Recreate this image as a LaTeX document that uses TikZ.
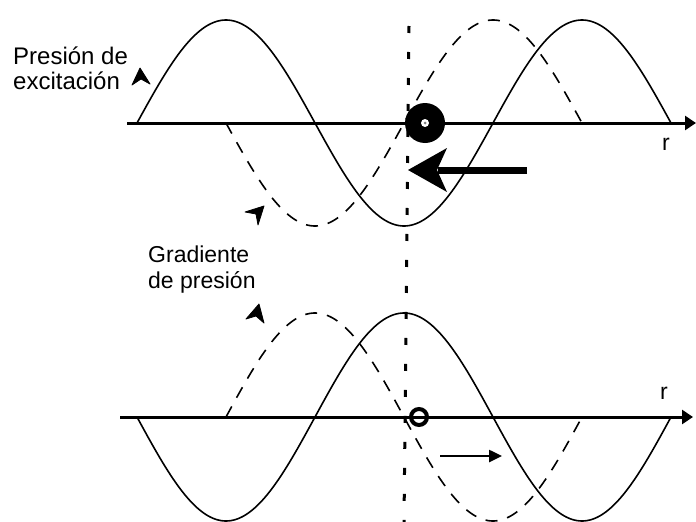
\documentclass[tikz,border=0pt]{standalone}
\usepackage{fontspec}
\setmainfont{Liberation Sans}
\usetikzlibrary{arrows.meta}
\begin{document}
\begin{tikzpicture}[x=1pt,y=-1pt,
  lbl/.style={inner sep=0pt,font=\fontsize{23}{27}\selectfont},
  lblbig/.style={inner sep=0pt,font=\fontsize{24}{28}\selectfont},
  axisline/.style={line width=3pt,-{Triangle[length=11pt,width=14pt]}},
  wave/.style={line width=1.6pt},
  dwave/.style={line width=1.6pt,dash pattern=on 12pt off 10pt},
  markhead/.style={fill=black,draw=black,line width=0.8pt,line join=round}]
\useasboundingbox (0,0) rectangle (696,522);
% dotted vertical line
\coordinate (vt) at (409,26);
\coordinate (vb) at (404,522);
\draw[line width=3pt,dash pattern=on 7pt off 19pt] (vt) -- (vb);
% top axis
\coordinate (ta) at (127,123);
\coordinate (tb) at (696,123);
\draw[axisline] (ta) -- (tb);
% bottom axis
\coordinate (ba) at (120,417);
\coordinate (bb) at (693,417);
\draw[axisline] (ba) -- (bb);
% waves
\draw[wave] plot[domain=137:671,samples=240] (\x,{123-103*sin((\x-137)/178*180)});
\draw[dwave] plot[domain=226:582,samples=200] (\x,{123+103*sin((\x-226)/178*180)});
\draw[wave] plot[domain=137:671,samples=240] (\x,{417+104*sin((\x-137)/178*180)});
\draw[dwave] plot[domain=226:582,samples=200] (\x,{417-104*sin((\x-226)/178*180)});
% ball
\node[circle,fill=black,minimum size=40pt,inner sep=0pt] (ball) at (425,123) {};
\node[circle,fill=white,minimum size=8pt,inner sep=0pt] (balldot) at (ball.center) {};
\node[circle,fill=gray,minimum size=3pt,inner sep=0pt] (balldot2) at (ball.center) {};
% small circle
\node[circle,draw=black,line width=4pt,minimum size=16pt,inner sep=0pt] (ring) at (419,417) {};
% big arrow
\coordinate (bigs) at (527,170);
\coordinate (bigt) at (408,170);
\draw[line width=7pt] (bigs) -- (438,170);
\fill (bigt) -- (447,148) -- (437,170) -- (447,192) -- cycle;
% small arrow
\coordinate (sms) at (440,456);
\coordinate (smt) at (502,456);
\draw[line width=2.5pt,-{Triangle[length=13pt,width=12pt]}] (sms) -- (smt);
% marks
\filldraw[markhead] (140,68) -- (150,84) -- (141,79) -- (132,85) -- cycle;
\filldraw[markhead] (264,206) -- (258,225) -- (256,214) -- (245,212) -- cycle;
\filldraw[markhead] (259,304) -- (264,323) -- (256,316) -- (246,319) -- cycle;
% labels
\node[lblbig,anchor=base west] (l1) at (13,64) {Presión de};
\node[lblbig,anchor=base west] (l2) at (13,89) {excitación};
\node[lbl,anchor=base west] (l3) at (148,262) {Gradiente};
\node[lbl,anchor=base west] (l4) at (148,288) {de presión};
\node[lbl,anchor=base west] (r1) at (662,150) {r};
\node[lbl,anchor=base west] (r2) at (660,399) {r};
\end{tikzpicture}
\end{document}
